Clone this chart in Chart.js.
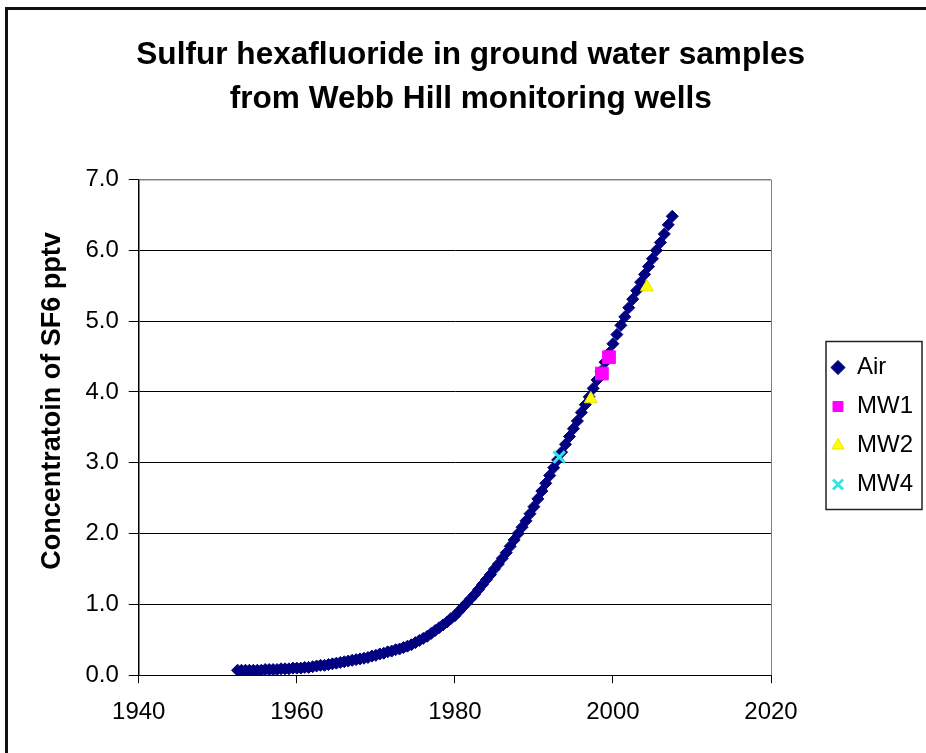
<!DOCTYPE html>
<html>
<head>
<meta charset="utf-8">
<script src="https://cdn.jsdelivr.net/npm/chart.js@4.4.1/dist/chart.umd.min.js"></script>
<style>
  html, body { margin: 0; padding: 0; background: #fff; overflow: hidden; }
  #wrap { position: relative; width: 926px; height: 753px; overflow: hidden; }
  #frame { position: absolute; left: 5px; top: 7px; width: 1000px; height: 1000px; border: 3px solid #111; }
  #myChart { position: absolute; left: 0; top: 0; }
</style>
</head>
<body>
<div id="wrap">
  <div id="frame"></div>
  <canvas id="myChart" width="926" height="753"></canvas>
</div>
<script>
// Air record (year, pptv)
var airYears = [
  1952.5, 1953, 1953.5, 1954, 1954.5, 1955, 1955.5, 1956, 1956.5, 1957, 1957.5,
  1958, 1958.5, 1959, 1959.5, 1960, 1960.5, 1961, 1961.5, 1962, 1962.5,
  1963, 1963.5, 1964, 1964.5, 1965, 1965.5, 1966, 1966.5, 1967, 1967.5,
  1968, 1968.5, 1969, 1969.5, 1970, 1970.5, 1971, 1971.5, 1972, 1972.5,
  1973, 1973.5, 1974, 1974.5, 1975, 1975.5, 1976, 1976.5, 1977, 1977.5,
  1978, 1978.5, 1979, 1979.5, 1980, 1980.5, 1981, 1981.5, 1982, 1982.5,
  1983, 1983.5, 1984, 1984.5, 1985, 1985.5, 1986, 1986.5, 1987, 1987.5,
  1988, 1988.5, 1989, 1989.5, 1990, 1990.5, 1991, 1991.5, 1992, 1992.5,
  1993, 1993.5, 1994, 1994.5, 1995, 1995.5, 1996, 1996.5, 1997, 1997.5,
  1998, 1998.5, 1999, 1999.5, 2000, 2000.5, 2001, 2001.5, 2002, 2002.5,
  2003, 2003.5, 2004, 2004.5, 2005, 2005.5, 2006, 2006.5, 2007, 2007.5
];
var airValues = [
  0.07, 0.07, 0.07, 0.07, 0.07, 0.07, 0.07, 0.08, 0.08, 0.08, 0.08,
  0.09, 0.09, 0.09, 0.10, 0.10, 0.10, 0.11, 0.11, 0.12, 0.13,
  0.14, 0.14, 0.15, 0.16, 0.17, 0.18, 0.19, 0.20, 0.21, 0.22,
  0.23, 0.24, 0.25, 0.27, 0.28, 0.30, 0.31, 0.33, 0.34, 0.36,
  0.37, 0.39, 0.41, 0.43, 0.46, 0.49, 0.52, 0.55, 0.59, 0.63,
  0.67, 0.71, 0.75, 0.80, 0.84, 0.90, 0.96, 1.02, 1.08, 1.14,
  1.21, 1.28, 1.35, 1.42, 1.50, 1.57, 1.65, 1.73, 1.82, 1.91,
  2.00, 2.09, 2.18, 2.28, 2.38, 2.49, 2.60, 2.71, 2.82, 2.93,
  3.04, 3.15, 3.26, 3.37, 3.48, 3.59, 3.71, 3.82, 3.93, 4.05,
  4.17, 4.29, 4.42, 4.55, 4.68, 4.81, 4.94, 5.06, 5.19, 5.31,
  5.43, 5.55, 5.66, 5.77, 5.88, 6.00, 6.11, 6.23, 6.36, 6.48
];

// well samples
var mw1Years = [1998.6, 1999.5];
var mw1Values = [4.26, 4.49];
var mw2Years = [1997.2, 2004.3];
var mw2Values = [3.90, 5.48];
var mw4Years = [1993.2];
var mw4Values = [3.08];

var seriesNames = ["Air", "MW1", "MW2", "MW4"];
var xTicks = [1940, 1960, 1980, 2000, 2020];
var yTicks = [0, 1, 2, 3, 4, 5, 6, 7];

var FONT = "'Liberation Sans', Arial, sans-serif";

function toPoints(xs, ys) {
    var pts = [];
    for (var i = 0; i < xs.length; i++) {
        pts.push({x: xs[i], y: ys[i]});
    }
    return pts;
}

// grey plot-area edge on top/right + box round the legend
var framePlugin = {
    id: "frames",
    afterDraw: function(chart) {
        var ctx = chart.ctx;
        var a = chart.chartArea;
        ctx.save();
        ctx.strokeStyle = "#808080";
        ctx.lineWidth = 1;
        ctx.beginPath();
        ctx.moveTo(a.left, a.top + 0.5);
        ctx.lineTo(a.right + 0.5, a.top + 0.5);
        ctx.lineTo(a.right + 0.5, a.bottom);
        ctx.stroke();

        var lg = chart.legend;
        var hb = lg.legendHitBoxes;
        if (hb && hb.length) {
            var top = hb[0].top - 14;
            var bottom = hb[hb.length - 1].top + hb[hb.length - 1].height + 13;
            ctx.strokeStyle = "#222";
            ctx.lineWidth = 1.5;
            ctx.strokeRect(lg.left + 10, top, lg.right - lg.left - 11, bottom - top);
        }
        ctx.restore();
    }
};

const data = {
    datasets: [
        {
            label: seriesNames[0],
            data: toPoints(airYears, airValues),
            pointStyle: "rectRot",
            pointRadius: 6,
            backgroundColor: "#000080",
            borderColor: "#000080",
            borderWidth: 1,
            order: 1
        },
        {
            label: seriesNames[1],
            data: toPoints(mw1Years, mw1Values),
            pointStyle: "rect",
            pointRadius: 9,
            backgroundColor: "#ff00ff",
            borderColor: "#ff00ff",
            borderWidth: 1,
            order: 0
        },
        {
            label: seriesNames[2],
            data: toPoints(mw2Years, mw2Values),
            pointStyle: "triangle",
            pointRadius: 7.5,
            backgroundColor: "#ffff00",
            borderColor: "#e6e600",
            borderWidth: 1,
            order: 0
        },
        {
            label: seriesNames[3],
            data: toPoints(mw4Years, mw4Values),
            pointStyle: "crossRot",
            pointRadius: 8,
            backgroundColor: "#33e6e6",
            borderColor: "#33e6e6",
            borderWidth: 3,
            order: 0
        }
    ]
};

const config = {
    type: "scatter",
    data: data,
    options: {
        responsive: false,
        animation: false,
        devicePixelRatio: 1,
        layout: {
            padding: {left: 36, right: 3, top: 10, bottom: 11}
        },
        plugins: {
            title: {
                display: true,
                text: ["Sulfur hexafluoride in ground water samples  ", "from Webb Hill monitoring wells  "],
                color: "#000",
                font: {family: FONT, size: 31.6, weight: "bold", lineHeight: 1.4},
                padding: {top: 23, bottom: 58}
            },
            legend: {
                display: true,
                position: "right",
                title: {
                    display: true,
                    text: " ",
                    font: {size: 10, lineHeight: 1.2},
                    padding: {top: 88, bottom: 0}
                },
                labels: {
                    usePointStyle: true,
                    boxWidth: 14,
                    boxHeight: 10,
                    padding: 15,
                    color: "#000",
                    font: {family: FONT, size: 24},
                    sort: function(a, b) { return a.datasetIndex - b.datasetIndex; }
                }
            },
            tooltip: {enabled: false}
        },
        scales: {
            x: {
                type: "linear",
                position: "bottom",
                min: xTicks[0],
                max: xTicks[xTicks.length - 1],
                afterBuildTicks: function(scale) {
                    scale.ticks = xTicks.map(function(v) { return {value: v}; });
                },
                ticks: {
                    color: "#000",
                    padding: 15,
                    font: {family: FONT, size: 24},
                    callback: function(v) { return String(v); }
                },
                grid: {
                    drawOnChartArea: false,
                    drawTicks: true,
                    tickLength: 8,
                    color: "#000"
                },
                border: {display: true, color: "#000", width: 1}
            },
            y: {
                type: "linear",
                position: "left",
                min: yTicks[0],
                max: yTicks[yTicks.length - 1],
                afterBuildTicks: function(scale) {
                    scale.ticks = yTicks.map(function(v) { return {value: v}; });
                },
                ticks: {
                    color: "#000",
                    padding: 10,
                    font: {family: FONT, size: 24},
                    callback: function(v) { return Number(v).toFixed(1); }
                },
                grid: {
                    color: function(c) { return c.tick && c.tick.value === 7 ? "#808080" : "#000"; },
                    tickColor: "#000",
                    tickLength: 10,
                    lineWidth: 1
                },
                border: {display: true, color: "#000", width: 1.5},
                title: {
                    display: true,
                    text: "       Concentratoin of SF6 pptv",
                    color: "#000",
                    font: {family: FONT, size: 27, weight: "bold"},
                    padding: {top: 0, bottom: 7}
                }
            },
            gap: {
                type: "linear",
                position: "right",
                display: true,
                grid: {display: false},
                border: {display: false},
                ticks: {display: false},
                afterFit: function(scale) { scale.width = 45; }
            }
        }
    },
    plugins: [framePlugin]
};

myChart = new Chart(
    document.getElementById("myChart"),
    config
);
</script>
</body>
</html>
